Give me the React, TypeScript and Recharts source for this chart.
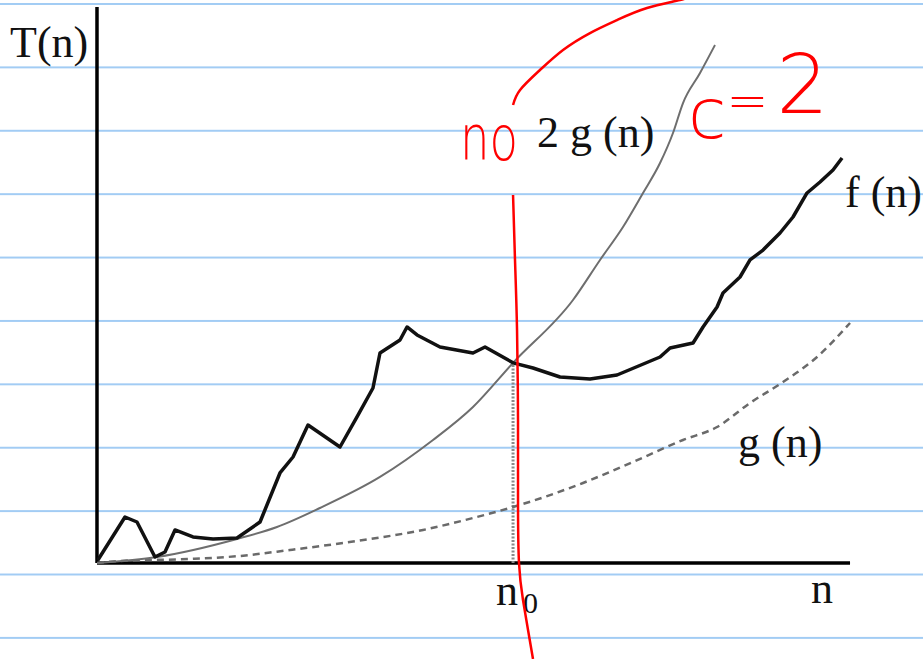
import { ComposedChart, Line, XAxis, YAxis, ReferenceLine } from 'recharts';

// n runs 0..100 along the drawn x axis, T(n) runs 0..100 up the drawn y axis
const X_DOMAIN: [number, number] = [-12.88, 109.69];
const Y_DOMAIN: [number, number] = [-17.27, 101.26];

const N0 = 55.25;
const N0_TOP = 36.0;

// f(n): the wiggly measured running time
const fPoints: [number, number][] = [
    [0.1, 0.5], [3.72, 8.27], [5.31, 7.37], [7.7, 1.08], [9.03, 1.98], [10.36, 5.94],
    [12.75, 4.68], [15.41, 4.32], [18.59, 4.5], [21.65, 7.37], [24.3, 16.19], [26.03, 19.06],
    [28.02, 24.82], [32.27, 20.86], [34.53, 26.26], [36.65, 31.47], [37.58, 37.77], [40.24, 40.11],
    [41.17, 42.45], [42.5, 41.01], [45.55, 38.85], [49.93, 37.77], [51.53, 38.85], [55.25, 36.0],
    [57.9, 35.07], [61.49, 33.45], [65.47, 33.09], [69.06, 33.81], [74.77, 37.05], [76.1, 38.67],
    [79.15, 39.57], [80.48, 42.45], [82.34, 46.04], [83.13, 48.56], [85.39, 51.44], [86.72, 54.5],
    [88.45, 56.29], [90.7, 59.35], [92.43, 62.23], [94.29, 66.55], [96.02, 68.53], [97.74, 70.68],
    [98.94, 72.84],
];

// 2 g(n)
const twoGPoints: [number, number][] = [
    [0.13, 0], [7.97, 1.08], [18.59, 4.32], [23.9, 6.47], [29.61, 9.89], [37.58, 15.47],
    [44.62, 22.12], [49.93, 28.06], [55.25, 36.0], [63.21, 47.3], [66.8, 54.5], [69.85, 60.43],
    [72.51, 66.55], [74.77, 71.94], [76.49, 77.34], [77.82, 82.73], [80.08, 88.13], [82.07, 93.17],
];

// g(n)
const gPoints: [number, number][] = [
    [0, 0], [3.05, 0.36], [12.35, 0.72], [18.99, 1.26], [25.63, 2.34], [34.53, 3.96],
    [43.29, 5.94], [49.93, 8.09], [55.25, 10.07], [64.54, 14.39], [71.18, 18.17], [77.82, 22.12],
    [82.34, 24.46], [86.72, 28.78], [91.1, 32.55], [95.62, 37.05], [100, 43.17],
];

// red pen marks
const redVertical: [number, number][] = [
    [55.25, 66.19], [55.51, 54.5], [55.78, 41.91], [55.91, 25.72], [55.91, 11.33],
    [56.04, 0], [56.57, -6.65], [57.24, -12.05], [57.9, -17.27],
];
const redArc: [number, number][] = [
    [55.25, 82.37], [56.18, 85.07], [58.83, 88.67], [61.89, 92.27], [65.47, 95.32],
    [69.06, 97.66], [73.04, 99.82], [77.42, 101.26], [79.42, 102.16],
];

const toRows = (pts: [number, number][]) => pts.map(([x, y]) => ({ x, y }));

const serif = '"Liberation Serif", "Times New Roman", serif';
const pen = '"DejaVu Sans", sans-serif';

export default function App() {
    return (
        <div
            style={{
                position: 'absolute',
                left: 0,
                top: 0,
                width: 923,
                height: 659,
                overflow: 'hidden',
                backgroundColor: '#fff',
                backgroundImage: 'linear-gradient(to bottom, #a2ccf4 0, #a2ccf4 2px, transparent 2px)',
                backgroundSize: '100% 63.4px',
                backgroundPosition: '0 3px',
            }}
        >
            {/* printed labels and handwritten notes, under the curves */}
            <svg width={923} height={659} style={{ position: 'absolute', left: 0, top: 0 }}>
                <g fontFamily={serif} fontSize={44} fill="#111">
                    <text x={10} y={57}>T(n)</text>
                    <text x={537} y={147} xmlSpace="preserve">2 g (n)</text>
                    <text x={845} y={207} xmlSpace="preserve">f (n)</text>
                    <text x={738} y={457} xmlSpace="preserve">g (n)</text>
                    <text x={496} y={605}>
                        n<tspan fontSize={30} dx={5} dy={8}>0</tspan>
                    </text>
                    <text x={811} y={603}>n</text>
                </g>
                <g fontFamily={pen} fontWeight={200} fill="#ff0000">
                    <text x={460} y={160} fontSize={62} textLength={58} lengthAdjust="spacingAndGlyphs">no</text>
                    <text x={688} y={138} fontSize={70}>
                        c<tspan dy={-20} fontSize={50}>=</tspan><tspan dx={8} dy={-5} fontSize={82}>2</tspan>
                    </text>
                </g>
            </svg>

            <div style={{ position: 'absolute', left: 0, top: 0 }}>
                <ComposedChart width={923} height={659} margin={{ top: 0, right: 0, bottom: 0, left: 0 }}>
                    <XAxis dataKey="x" type="number" domain={X_DOMAIN} allowDataOverflow hide />
                    <YAxis type="number" domain={Y_DOMAIN} allowDataOverflow hide />

                    {/* axes */}
                    <ReferenceLine segment={[{ x: 0, y: 0 }, { x: 100, y: 0 }]} stroke="#000" strokeWidth={3.5} />
                    <ReferenceLine segment={[{ x: 0, y: 0 }, { x: 0, y: 100 }]} stroke="#000" strokeWidth={3.5} />
                    <ReferenceLine
                        segment={[{ x: N0, y: 0 }, { x: N0, y: N0_TOP }]}
                        stroke="#8a8a8a"
                        strokeWidth={3}
                        strokeDasharray="2 1.5"
                    />

                    <Line data={toRows(gPoints)} dataKey="y" type="monotone" stroke="#6a6a6a" strokeWidth={2.5}
                        strokeDasharray="7 5" dot={false} activeDot={false} isAnimationActive={false} />
                    <Line data={toRows(twoGPoints)} dataKey="y" type="monotone" stroke="#6e6e6e" strokeWidth={2}
                        dot={false} activeDot={false} isAnimationActive={false} />
                    <Line data={toRows(fPoints)} dataKey="y" type="linear" stroke="#111" strokeWidth={3.5}
                        strokeLinejoin="round" dot={false} activeDot={false} isAnimationActive={false} />

                    <Line data={toRows(redVertical)} dataKey="y" type="natural" stroke="#ff0000" strokeWidth={2.5}
                        dot={false} activeDot={false} isAnimationActive={false} />
                    <Line data={toRows(redArc)} dataKey="y" type="natural" stroke="#ff0000" strokeWidth={2.5}
                        dot={false} activeDot={false} isAnimationActive={false} />
                </ComposedChart>
            </div>
        </div>
    );
}
